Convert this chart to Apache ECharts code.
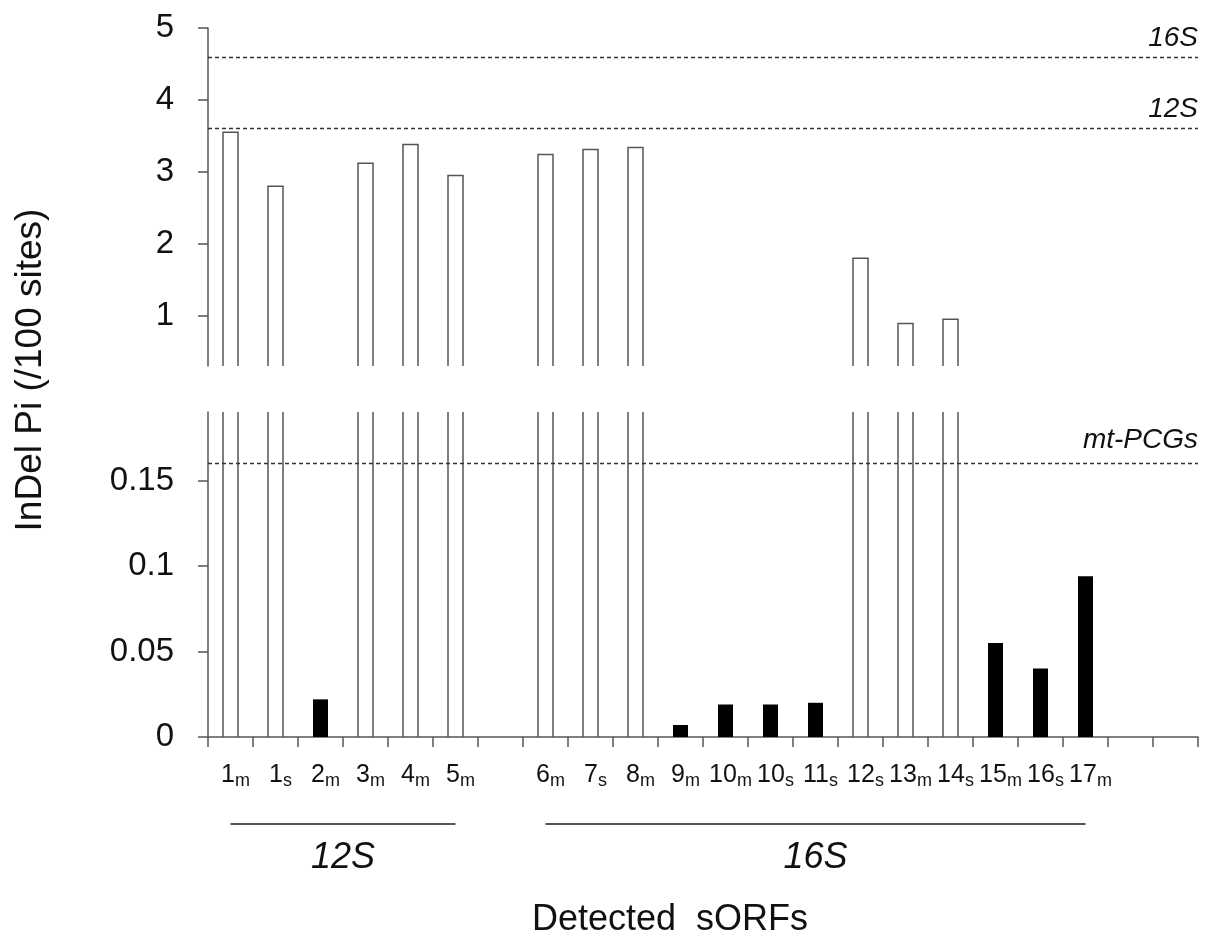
<!DOCTYPE html>
<html>
<head>
<meta charset="utf-8">
<script src="https://cdn.jsdelivr.net/npm/echarts@6/dist/echarts.min.js"></script>
<style>
html, body { margin: 0; padding: 0; background: #fff; }
#chart { width: 1210px; height: 944px; }
</style>
</head>
<body>
<div id="chart"></div>
<script>
// sORFs: number + subscript letter; gapX are empty slots on the axis
const categories = ['1m','1s','2m','3m','4m','5m','gapA','6m','7s','8m','9m','10m','10s','11s','12s','13m','14s','15m','16s','17m','gapB','gapC'];
const indelPi = [3.55, 2.80, 0.022, 3.12, 3.38, 2.95, null, 3.24, 3.31, 3.34, 0.007, 0.019, 0.019, 0.020, 1.80, 0.89, 0.95, 0.055, 0.040, 0.094, null, null];

const topTicks = [1, 2, 3, 4, 5];
const bottomTicks = [0, 0.05, 0.1, 0.15];

// dashed reference levels
const refNamesTop = ['16S', '12S'];
const refValuesTop = [4.59, 3.60];
const refNamesBottom = ['mt-PCGs'];
const refValuesBottom = [0.158];

// gene groups under the axis
const groupNames = ['12S', '16S'];
const groupFrom = ['1m', '6m'];
const groupTo = ['5m', '17m'];

const FONT = '"Liberation Sans", Arial, sans-serif';
const TOP_MIN = 0.3, TOP_MAX = 5, BOT_MAX = 0.19;
const lineCol = '#555';
const textCol = '#111';

let myChart = echarts.init(document.getElementById('chart'));

// bars drawn through the axes; open bars (big values) as outline, small ones filled
function renderBar(params, api) {
  let v = api.value(1);
  if (v == null || isNaN(v)) return null;
  let i = api.value(0);
  let top = api.coord([i, v]);
  let base = api.coord([i, 0]);
  let w = api.size([1, 0])[0] / 3;
  let x0 = top[0] - w / 2, x1 = top[0] + w / 2;
  if (v > BOT_MAX) {
    return {
      type: 'polyline',
      shape: { points: [[x0, base[1]], [x0, top[1]], [x1, top[1]], [x1, base[1]]] },
      style: { fill: 'none', stroke: lineCol, lineWidth: 1.5 }
    };
  }
  return {
    type: 'rect',
    shape: { x: x0, y: top[1], width: w, height: base[1] - top[1] },
    style: { fill: '#000' }
  };
}

let barData = categories.map((c, i) => [i, indelPi[i]]);

function yAxisStyle(ticks) {
  return {
    type: 'value',
    splitLine: { show: false },
    axisLine: { show: true, lineStyle: { color: lineCol, width: 1.5 } },
    axisTick: { show: true, length: 10, customValues: ticks, lineStyle: { color: lineCol, width: 1.5 } },
    axisLabel: { customValues: ticks, fontSize: 33, margin: 34, color: textCol, fontFamily: FONT }
  };
}

function refLine(names, values, dist) {
  return {
    silent: true,
    symbol: ['none', 'none'],
    lineStyle: { type: [4, 3], color: '#333', width: 1.3 },
    label: {
      position: 'insideEndTop', formatter: '{b}', fontStyle: 'italic',
      fontSize: 28, fontFamily: FONT, color: textCol, distance: [0, dist]
    },
    emphasis: { disabled: true },
    data: names.map((n, k) => ({ name: n, yAxis: values[k] }))
  };
}

myChart.setOption({
  animation: false,
  backgroundColor: '#fff',
  grid: [
    { left: 208, top: 28, width: 990, height: 338, outerBoundsMode: 'none' },
    { left: 208, top: 412, width: 990, height: 325, outerBoundsMode: 'none' }
  ],
  xAxis: [
    { gridIndex: 0, type: 'category', data: categories, show: false },
    {
      gridIndex: 1, type: 'category', data: categories,
      axisLine: { show: true, lineStyle: { color: lineCol, width: 1.5 } },
      axisTick: { show: true, interval: 0, length: 10, lineStyle: { color: lineCol, width: 1.5 } },
      axisLabel: {
        interval: 0, margin: 23, color: textCol,
        formatter: function (val) {
          let m = val.match(/^(\d+)([a-z]*)$/);
          return m ? '{n|' + m[1] + '}{s|' + m[2] + '}' : '';
        },
        rich: {
          n: { fontSize: 25, fontFamily: FONT, color: textCol, lineHeight: 30, padding: [0, 0, 0, 10] },
          s: { fontSize: 18, fontFamily: FONT, color: textCol, lineHeight: 20, padding: [13, 0, 0, 0] }
        }
      }
    }
  ],
  yAxis: [
    Object.assign({ gridIndex: 0, min: TOP_MIN, max: TOP_MAX }, yAxisStyle(topTicks)),
    Object.assign({ gridIndex: 1, min: 0, max: BOT_MAX }, yAxisStyle(bottomTicks))
  ],
  series: [
    { type: 'custom', xAxisIndex: 0, yAxisIndex: 0, clip: true, renderItem: renderBar, data: barData, silent: true },
    { type: 'custom', xAxisIndex: 1, yAxisIndex: 1, clip: true, renderItem: renderBar, data: barData, silent: true },
    { type: 'line', xAxisIndex: 0, yAxisIndex: 0, data: [], markLine: refLine(refNamesTop, refValuesTop, 5) },
    { type: 'line', xAxisIndex: 1, yAxisIndex: 1, data: [], markLine: refLine(refNamesBottom, refValuesBottom, 9) }
  ]
});

// annotations: group brackets below the axis and axis titles
let gfx = [];
groupNames.forEach(function (g, k) {
  let xa = myChart.convertToPixel({ xAxisIndex: 1 }, categories.indexOf(groupFrom[k]));
  let xb = myChart.convertToPixel({ xAxisIndex: 1 }, categories.indexOf(groupTo[k]));
  gfx.push({ type: 'line', shape: { x1: xa, y1: 824, x2: xb, y2: 824 }, style: { stroke: lineCol, lineWidth: 2 } });
  gfx.push({
    type: 'text', x: (xa + xb) / 2, y: 858,
    style: { text: g, fontSize: 36, fontStyle: 'italic', fontFamily: FONT, fill: textCol, align: 'center', verticalAlign: 'middle' }
  });
});
gfx.push({
  type: 'text', x: 670, y: 920,
  style: { text: 'Detected  sORFs', fontSize: 36, fontFamily: FONT, fill: textCol, align: 'center', verticalAlign: 'middle' }
});
gfx.push({
  type: 'text', x: 31, y: 370, rotation: Math.PI / 2,
  style: { text: 'InDel Pi (/100 sites)', fontSize: 37, fontFamily: FONT, fill: textCol, align: 'center', verticalAlign: 'middle' }
});
myChart.setOption({ graphic: gfx });
</script>
</body>
</html>
